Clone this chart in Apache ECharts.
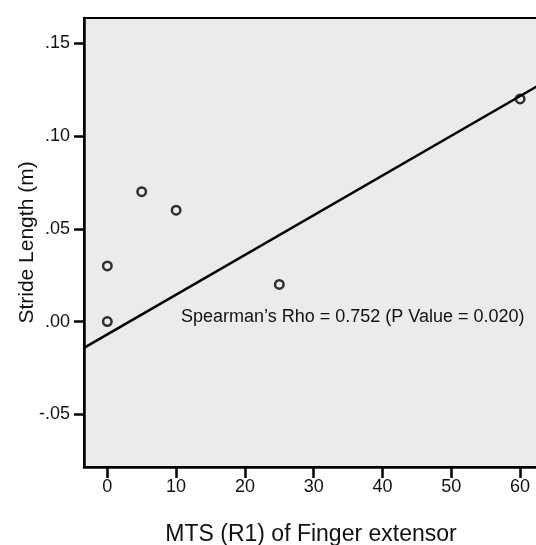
<!DOCTYPE html>
<html>
<head>
<meta charset="utf-8">
<script src="https://cdn.jsdelivr.net/npm/echarts@6/dist/echarts.min.js"></script>
<style>html,body{margin:0;padding:0;background:#fff}#c{width:536px;height:545px}</style>
</head>
<body>
<div id="c"></div>
<script>
// Data
var pointsX = [0, 0, 5, 10, 25, 60];
var pointsY = [0.03, 0.00, 0.07, 0.06, 0.02, 0.12];
var fitLineX = [-3.39, 62.6];
var fitLineY = [-0.0142, 0.1271];
var xTicks = [0, 10, 20, 30, 40, 50, 60];
var yTicks = [-0.05, 0.00, 0.05, 0.10, 0.15];
var xRange = [-3.39, 62.6];
var yRange = [-0.0784, 0.1636];
var annotation = "Spearman\u2019s Rho = 0.752 (P Value = 0.020)";
var xTitle = "MTS (R1) of Finger extensor";
var yTitle = "Stride Length (m)";

var FONT = "'Liberation Sans', Arial, Helvetica, sans-serif";
var chart = echarts.init(document.getElementById('c'), null, {renderer: 'canvas'});

function fmtY(v) {
  var s = Number(v).toFixed(2);
  return s.replace(/^(-?)0\./, '$1.');
}

var option = {
  backgroundColor: '#ffffff',
  animation: false,
  grid: {
    left: 84, top: 18, right: -2, bottom: 78,
    containLabel: false,
    outerBoundsMode: 'none',
    show: true,
    backgroundColor: '#ebebeb',
    borderColor: '#000',
    borderWidth: 2
  },
  xAxis: {
    type: 'value',
    min: xRange[0], max: xRange[1],
    name: xTitle,
    nameLocation: 'middle',
    nameGap: 56,
    nameMoveOverlap: false,
    nameTextStyle: {fontFamily: FONT, fontSize: 23, color: '#111'},
    axisLine: {show: true, onZero: false, lineStyle: {color: '#000', width: 2.5}},
    axisTick: {show: true, length: 11, lineStyle: {color: '#000', width: 2.5}, customValues: xTicks},
    axisLabel: {fontFamily: FONT, fontSize: 18, color: '#111', margin: 11, customValues: xTicks,
      formatter: function (v) { return String(v); }},
    splitLine: {show: false}
  },
  yAxis: {
    type: 'value',
    min: yRange[0], max: yRange[1],
    name: yTitle,
    nameLocation: 'middle',
    nameGap: 46,
    nameMoveOverlap: false,
    nameTextStyle: {fontFamily: FONT, fontSize: 21, color: '#111'},
    axisLine: {show: true, onZero: false, lineStyle: {color: '#000', width: 2.5}},
    axisTick: {show: true, length: 10, lineStyle: {color: '#000', width: 2.5}, customValues: yTicks},
    axisLabel: {fontFamily: FONT, fontSize: 18, color: '#111', margin: 14, customValues: yTicks,
      formatter: fmtY},
    splitLine: {show: false}
  },
  graphic: [{
    type: 'text',
    left: 181, top: 308,
    style: {text: annotation, fontFamily: FONT, fontSize: 18, fill: '#111'}
  }],
  series: [
    {
      type: 'line',
      data: fitLineX.map(function (x, i) { return [x, fitLineY[i]]; }),
      symbol: 'none',
      lineStyle: {color: '#000', width: 2.5},
      silent: true,
      z: 2
    },
    {
      type: 'scatter',
      data: pointsX.map(function (x, i) { return [x, pointsY[i]]; }),
      symbol: 'circle',
      symbolSize: 8.5,
      itemStyle: {color: 'rgba(0,0,0,0)', borderColor: '#000', borderWidth: 2.5},
      z: 3
    }
  ]
};
chart.setOption(option);
</script>
</body>
</html>
